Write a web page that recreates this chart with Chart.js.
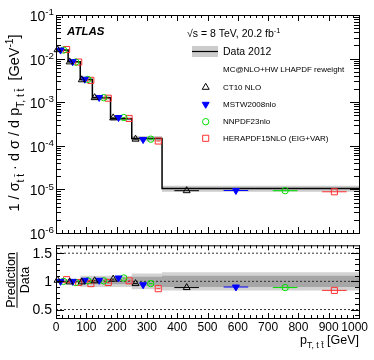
<!DOCTYPE html>
<html lang="en">
<head>
<meta charset="UTF-8">
<title>pT ttbar</title>
<script src="https://cdn.jsdelivr.net/npm/chart.js"></script>
<style>
    html, body { margin: 0; padding: 0; background: #fff; }
    #wrap { position: relative; width: 374px; height: 360px; overflow: hidden; }
    #wrap canvas { position: absolute; left: 0; }
    #topChart { top: 0; }
    #ratioChart { top: 240px; }
</style>
</head>
<body>
<div id="wrap">
    <canvas id="topChart" width="374" height="240"></canvas>
    <canvas id="ratioChart" width="374" height="120"></canvas>
</div>
<script>
// bins in pT,ttbar [GeV] and normalised data
const binEdges = [0, 40, 80, 120, 180, 250, 350, 1000];
const dataValues = [1.57e-2, 8.5e-3, 3.3e-3, 1.26e-3, 4.2e-4, 1.48e-4, 1.05e-5];
const totalUnc = [0.03, 0.04, 0.10, 0.10, 0.10, 0.14, 0.16];
const statUnc = [0.015, 0.02, 0.05, 0.05, 0.05, 0.08, 0.10];

// prediction / data
const ratioCT10 = [1.02, 0.99, 0.99, 1.01, 1.04, 0.96, 0.89];
const ratioMSTW = [1.00, 1.00, 1.02, 1.02, 1.06, 0.94, 0.90];
const ratioNNPDF = [1.00, 0.98, 1.01, 1.01, 1.06, 0.96, 0.89];
const ratioHERA = [1.03, 0.98, 0.96, 0.98, 1.01, 0.87, 0.84];

const seriesNames = ['CT10 NLO', 'MSTW2008nlo', 'NNPDF23nlo', 'HERAPDF15NLO (EIG+VAR)'];
const seriesRatios = [ratioCT10, ratioMSTW, ratioNNPDF, ratioHERA];

// ticks
const xTickLabels = [0, 100, 200, 300, 400, 500, 600, 700, 800, 900, 1000];
const yDecadeExps = [-6, -5, -4, -3, -2, -1];
const ratioTickLabels = ['0.5', '1', '1.5'];

const styles = [
    { color: '#000000', pointStyle: 'triangle', rotation: 0, radius: 4, fill: 'rgba(0,0,0,0)' },
    { color: '#0000ff', pointStyle: 'triangle', rotation: 180, radius: 4, fill: '#0000ff' },
    { color: '#00dd00', pointStyle: 'circle', rotation: 0, radius: 3.2, fill: 'rgba(0,0,0,0)' },
    { color: '#ff3030', pointStyle: 'rect', rotation: 0, radius: 4.3, fill: 'rgba(0,0,0,0)' }
];
const FONT = '"Liberation Sans", Arial, sans-serif';

function stepPoints(vals) {
    return binEdges.map((e, i) => ({ x: e, y: vals[Math.min(i, vals.length - 1)] }));
}

function markerX(i, k) {
    const w = binEdges[i + 1] - binEdges[i];
    return binEdges[i] + (k + 0.5) * w / 4;
}

function markerPoints(yvals, k) {
    return yvals.map((y, i) => ({ x: markerX(i, k), y: y }));
}

function errBarPoints(yvals, k) {
    const pts = [];
    yvals.forEach((y, i) => {
        const w = binEdges[i + 1] - binEdges[i];
        const xc = markerX(i, k);
        pts.push({ x: xc - w / 16, y: y }, { x: xc + w / 16, y: y }, { x: xc + w / 16, y: null });
    });
    return pts;
}

function bandSets(upper, lower, color, order) {
    return [
        { data: stepPoints(upper), stepped: true, borderColor: 'rgba(0,0,0,0)', borderWidth: 0,
          pointRadius: 0, fill: '+1', backgroundColor: color, order: order },
        { data: stepPoints(lower), stepped: true, borderColor: 'rgba(0,0,0,0)', borderWidth: 0,
          pointRadius: 0, fill: false, order: order }
    ];
}

function seriesSets(yvalsOf) {
    const sets = [];
    seriesRatios.forEach((r, k) => {
        const yv = yvalsOf(r);
        const s = styles[k];
        sets.push({ data: errBarPoints(yv, k), borderColor: s.color, borderWidth: 1,
                    pointRadius: 0, spanGaps: false, fill: false, order: 3 });
        sets.push({ data: markerPoints(yv, k), showLine: false, pointStyle: s.pointStyle,
                    rotation: s.rotation, pointRadius: s.radius, borderColor: s.color,
                    backgroundColor: s.fill, pointBackgroundColor: s.fill, pointBorderWidth: 1,
                    fill: false, order: 1, clip: false });
    });
    return sets;
}

// rich text with sub/superscripts: parts = [[text, 'sup'|'sub'|'']]
function richWidth(ctx, parts, size) {
    let w = 0;
    parts.forEach(p => {
        ctx.font = (p[1] ? size * 0.7 : size) + 'px ' + FONT;
        w += ctx.measureText(p[0]).width;
    });
    return w;
}
function drawRich(ctx, parts, x, y, size, align) {
    const w = richWidth(ctx, parts, size);
    let cx = align === 'right' ? x - w : align === 'center' ? x - w / 2 : x;
    ctx.textAlign = 'left';
    ctx.textBaseline = 'alphabetic';
    parts.forEach(p => {
        const s = p[1] ? size * 0.7 : size;
        ctx.font = s + 'px ' + FONT;
        const dy = p[1] === 'sup' ? -size * 0.42 : p[1] === 'sub' ? size * 0.32 : 0;
        ctx.fillText(p[0], cx, y + dy);
        cx += ctx.measureText(p[0]).width;
    });
}

function drawFrame(ctx, a) {
    ctx.save();
    ctx.strokeStyle = '#000';
    ctx.lineWidth = 1;
    ctx.strokeRect(a.left + 0.5, a.top + 0.5, a.right - a.left, a.bottom - a.top);
    ctx.restore();
}

function drawXTicks(ctx, chart, major, minor) {
    const xs = chart.scales.x, a = chart.chartArea;
    ctx.save();
    ctx.strokeStyle = '#000';
    ctx.lineWidth = 1;
    ctx.beginPath();
    for (let v = 0; v <= 1000; v += 20) {
        const px = Math.round(xs.getPixelForValue(v)) + 0.5;
        const len = v % 100 === 0 ? major : minor;
        ctx.moveTo(px, a.bottom); ctx.lineTo(px, a.bottom - len);
        ctx.moveTo(px, a.top); ctx.lineTo(px, a.top + len);
    }
    ctx.stroke();
    ctx.restore();
}

function drawYTick(ctx, a, py, len) {
    py = Math.round(py) + 0.5;
    ctx.moveTo(a.left, py); ctx.lineTo(a.left + len, py);
    ctx.moveTo(a.right, py); ctx.lineTo(a.right - len, py);
}

const topDecor = {
    id: 'topDecor',
    afterDraw(chart) {
        const ctx = chart.ctx, a = chart.chartArea, ys = chart.scales.y;
        drawFrame(ctx, a);
        drawXTicks(ctx, chart, 6, 3);
        ctx.save();
        ctx.strokeStyle = '#000';
        ctx.lineWidth = 1;
        ctx.beginPath();
        yDecadeExps.forEach(e => {
            for (let m = 1; m <= 9; m++) {
                const v = m * Math.pow(10, e);
                if (v < 1e-6 * 0.999 || v > 0.1 * 1.001) continue;
                drawYTick(ctx, a, ys.getPixelForValue(v), m === 1 ? 9 : 5);
            }
        });
        ctx.stroke();

        // y tick labels
        ctx.fillStyle = '#000';
        yDecadeExps.forEach(e => {
            const py = ys.getPixelForValue(Math.pow(10, e));
            drawRich(ctx, [['10', ''], [String(e), 'sup']], 54, py + 6, 14, 'right');
        });

        // y title
        ctx.save();
        ctx.translate(19, 123);
        ctx.rotate(-Math.PI / 2);
        const title = [['1 / \u03C3', ''], ['t t\u0304', 'sub'], [' \u00B7 d \u03C3 / d p', ''],
                       ['T, t t\u0304', 'sub'], ['  [GeV', ''], ['-1', 'sup'], [']', '']];
        drawRich(ctx, title, 0, 0, 14.5, 'center');
        ctx.restore();

        // ATLAS label
        ctx.font = 'italic bold 11.5px ' + FONT;
        ctx.textAlign = 'left';
        ctx.textBaseline = 'middle';
        ctx.fillText('ATLAS', 67, 32);
        drawRich(ctx, [['\u221As = 8 TeV, 20.2 fb', ''], ['-1', 'sup']], 187, 37, 10.5, 'left');

        // legend
        ctx.fillStyle = '#cccccc';
        ctx.fillRect(192, 46, 26, 11);
        ctx.strokeStyle = '#000';
        ctx.lineWidth = 1.2;
        ctx.beginPath();
        ctx.moveTo(192, 51.5); ctx.lineTo(218, 51.5);
        ctx.stroke();
        ctx.fillStyle = '#000';
        ctx.font = '10.5px ' + FONT;
        ctx.textBaseline = 'middle';
        ctx.fillText('Data 2012', 223, 52);
        ctx.font = '8px ' + FONT;
        ctx.fillText('MC@NLO+HW LHAPDF reweight', 223, 70);
        const legY = [87.3, 104.3, 121.7, 138.3];
        seriesNames.forEach((n, k) => {
            const s = styles[k];
            ctx.fillStyle = '#000';
            ctx.font = '8px ' + FONT;
            ctx.fillText(n, 223, legY[k]);
            ctx.strokeStyle = s.color;
            ctx.fillStyle = s.fill;
            ctx.lineWidth = 1;
            Chart.helpers.drawPoint(ctx, { pointStyle: s.pointStyle, rotation: s.rotation,
                radius: s.radius, borderWidth: 1 }, 205.7, legY[k]);
        });
        ctx.restore();
    }
};

const ratioDecor = {
    id: 'ratioDecor',
    afterDraw(chart) {
        const ctx = chart.ctx, a = chart.chartArea, xs = chart.scales.x, ys = chart.scales.y;
        drawFrame(ctx, a);
        drawXTicks(ctx, chart, 5, 3);
        ctx.save();
        ctx.strokeStyle = '#000';
        ctx.lineWidth = 1;
        ctx.beginPath();
        for (let i = 4; i <= 16; i++) {
            const v = i / 10;
            drawYTick(ctx, a, ys.getPixelForValue(v), i % 5 === 0 ? 8 : 4);
        }
        ctx.stroke();

        ctx.fillStyle = '#000';
        ctx.font = '14px ' + FONT;
        ctx.textBaseline = 'middle';
        ctx.textAlign = 'right';
        ratioTickLabels.forEach(t => {
            ctx.fillText(t, 52, ys.getPixelForValue(parseFloat(t)) + 1);
        });

        ctx.font = '12px ' + FONT;
        ctx.textAlign = 'center';
        ctx.textBaseline = 'alphabetic';
        xTickLabels.forEach(v => {
            let px = xs.getPixelForValue(v);
            const w = ctx.measureText(String(v)).width;
            if (px + w / 2 > 368) px = 368 - w / 2;
            ctx.fillText(String(v), px, 91);
        });

        drawRich(ctx, [['p', ''], ['T, t t\u0304', 'sub'], [' [GeV]', '']], 359, 104, 12.5, 'right');

        // Prediction / Data
        ctx.save();
        ctx.translate(17, 40);
        ctx.rotate(-Math.PI / 2);
        ctx.font = '12.5px ' + FONT;
        ctx.textAlign = 'center';
        ctx.textBaseline = 'alphabetic';
        const w = ctx.measureText('Prediction').width;
        ctx.fillText('Prediction', 0, -2.5);
        ctx.textBaseline = 'top';
        ctx.fillText('Data', 0, 2);
        ctx.lineWidth = 1;
        ctx.strokeStyle = '#000';
        ctx.beginPath();
        ctx.moveTo(-w / 2, 0); ctx.lineTo(w / 2, 0);
        ctx.stroke();
        ctx.restore();
        ctx.restore();
    }
};

function baseOptions(yScale, padding) {
    return {
        responsive: false,
        animation: false,
        events: [],
        layout: { padding: padding },
        plugins: { legend: { display: false }, tooltip: { enabled: false } },
        scales: {
            x: { type: 'linear', min: 0, max: 1000, display: false },
            y: Object.assign({ display: false }, yScale)
        }
    };
}

// top panel
const topSets = []
    .concat(bandSets(dataValues.map((v, i) => v * (1 + totalUnc[i])),
                     dataValues.map((v, i) => v * (1 - totalUnc[i])), '#cccccc', 20))
    .concat([{ data: stepPoints(dataValues), stepped: true, borderColor: '#000', borderWidth: 1.5,
               pointRadius: 0, fill: false, order: 5 }])
    .concat(seriesSets(r => r.map((x, i) => x * dataValues[i])));

new Chart(document.getElementById('topChart'), {
    type: 'line',
    data: { datasets: topSets },
    options: baseOptions({ type: 'logarithmic', min: 1e-6, max: 1e-1 },
                         { left: 56, right: 15, top: 15, bottom: 7 }),
    plugins: [topDecor]
});

// ratio panel
const refLines = [0.5, 1, 1.5].map(v => ({
    data: [{ x: 0, y: v }, { x: 1000, y: v }], borderColor: '#333', borderWidth: 1,
    borderDash: [2, 2], pointRadius: 0, fill: false, order: 10
}));

const ratioSets = []
    .concat(bandSets(totalUnc.map(u => 1 + u), totalUnc.map(u => 1 - u), '#d2d2d2', 20))
    .concat(bandSets(statUnc.map(u => 1 + u), statUnc.map(u => 1 - u), '#a6a6a6', 19))
    .concat(refLines)
    .concat(seriesSets(r => r));

new Chart(document.getElementById('ratioChart'), {
    type: 'line',
    data: { datasets: ratioSets },
    options: baseOptions({ type: 'linear', min: 0.35, max: 1.64 },
                         { left: 56, right: 15, top: 2, bottom: 42 }),
    plugins: [ratioDecor]
});
</script>
</body>
</html>
